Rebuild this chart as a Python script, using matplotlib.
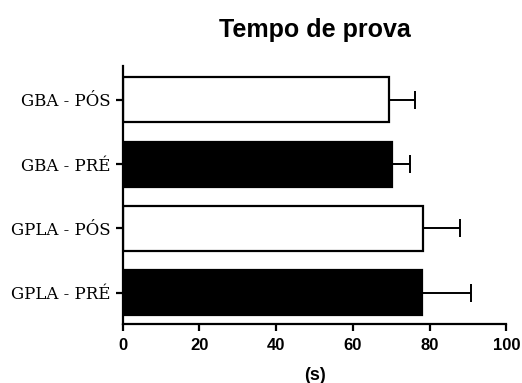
import matplotlib
matplotlib.use("Agg")
import matplotlib.pyplot as plt

categories = ["GPLA - PRÉ", "GPLA - PÓS", "GBA - PRÉ", "GBA - PÓS"]
means = [78.1, 78.2, 70.1, 69.4]
errors = [12.8, 9.6, 4.7, 6.9]
colors = ["black", "white", "black", "white"]
xticks = [0, 20, 40, 60, 80, 100]

fig = plt.figure(figsize=(5.22, 3.83), dpi=100)
ax = fig.add_axes([0.235, 0.154, 0.735, 0.674])

ypos = list(range(len(categories)))
ax.barh(ypos, means, height=0.7, color=colors, edgecolor="black", linewidth=1.6, zorder=2)
ax.errorbar(means, ypos, xerr=[[0] * len(errors), errors], fmt="none", ecolor="black",
            elinewidth=1.4, capsize=6.8, capthick=1.4, zorder=1)

ax.set_xlim(0, 100)
ax.set_ylim(-0.49, 3.53)
ax.set_xticks(xticks)
ax.set_xticklabels([str(v) for v in xticks], fontfamily="Liberation Sans",
                   fontweight="bold", fontsize=12)
ax.set_yticks(ypos)
ax.set_yticklabels(categories, fontfamily="DejaVu Serif", fontsize=12)

for s in ["top", "right"]:
    ax.spines[s].set_visible(False)
for s in ["left", "bottom"]:
    ax.spines[s].set_linewidth(1.6)
ax.tick_params(axis="both", direction="out", length=5, width=1.6)
ax.tick_params(axis="x", pad=5)
ax.tick_params(axis="y", pad=3.5)

ax.set_xlabel("(s)", fontfamily="Liberation Sans", fontweight="bold", fontsize=13, labelpad=10)
ax.set_title("Tempo de prova", fontfamily="Liberation Sans", fontweight="bold",
             fontsize=18, pad=21)

fig.savefig("out.png", dpi=100)
